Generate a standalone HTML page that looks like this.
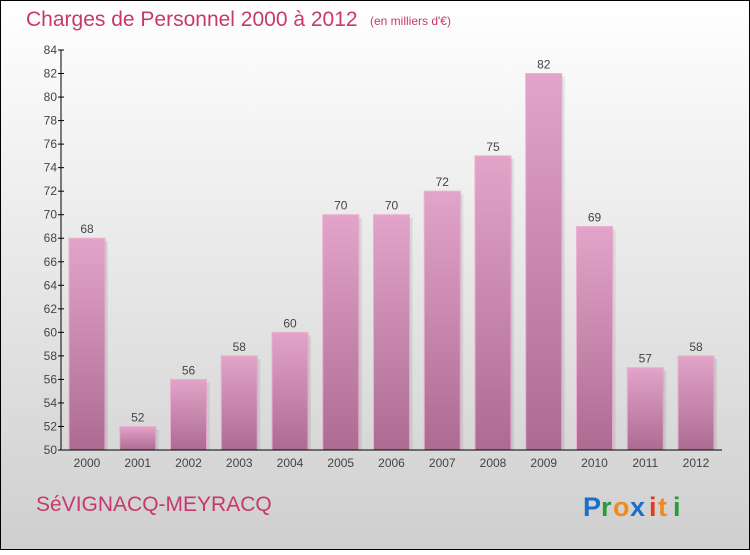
<!DOCTYPE html>
<html><head><meta charset="utf-8">
<style>
html,body{margin:0;padding:0}
body{width:750px;height:550px;overflow:hidden;font-family:"Liberation Sans",sans-serif}
</style></head>
<body>
<svg id="chart" width="750" height="550" xmlns="http://www.w3.org/2000/svg">
<defs>
<linearGradient id="bg" x1="0" y1="0" x2="0" y2="1">
<stop offset="0" stop-color="#ffffff"/><stop offset="1" stop-color="#cfcfcf"/>
</linearGradient>
<linearGradient id="bar" x1="0" y1="0" x2="0" y2="1">
<stop offset="0" stop-color="#e3a4c9"/><stop offset="1" stop-color="#ad6b92"/>
</linearGradient>
</defs>
<rect x="0.5" y="0.5" width="749" height="549" fill="url(#bg)" stroke="#000"/>
<text x="26" y="26" font-size="21" fill="#c8386e">Charges de Personnel 2000 à 2012</text>
<text x="370" y="25" font-size="12" fill="#c8386e">(en milliers d'€)</text>
<g id="plot"></g>
<text x="36" y="511" font-size="21" fill="#c8386e">SéVIGNACQ-MEYRACQ</text>
<g font-size="27" font-weight="bold" font-family="Liberation Sans, sans-serif">
<text x="583" y="516" fill="#1b6fc9">P</text><text x="601" y="516" fill="#2a9a3a">r</text><text x="613" y="516" fill="#f08a1c">o</text><text x="630" y="516" fill="#1b6fc9">x</text><text x="649" y="516" fill="#e23b1d">i</text><text x="658" y="516" fill="#f08a1c">t</text><text x="673" y="516" fill="#2a9a3a">i</text>
</g>
</svg>
<script>
const years = ["2000","2001","2002","2003","2004","2005","2006","2007","2008","2009","2010","2011","2012"];
const values = [68,52,56,58,60,70,70,72,75,82,69,57,58];
const yTicks = [50,52,54,56,58,60,62,64,66,68,70,72,74,76,78,80,82,84];
const NS="http://www.w3.org/2000/svg";
const g=document.getElementById('plot');
const yMin=50,yMax=84,y0=450,y1=50,axX=61;
const y=v=>y0-(v-yMin)/(yMax-yMin)*(y0-y1);
const x=i=>86+i*50.75;
function mk(t,a){const e=document.createElementNS(NS,t);for(const k in a)e.setAttribute(k,a[k]);g.appendChild(e);return e;}
values.forEach((v,i)=>{
 const r=mk('rect',{x:x(i)-17,y:y(v),width:36,height:y0-y(v),fill:'url(#bar)',stroke:'#e9b0d0','stroke-width':1});
 
 
 const s=mk('rect',{x:x(i)+19,y:y(v)+3,width:3,height:y0-y(v)-3,fill:'#000',opacity:0.08});
 
 
 const t=mk('text',{x:x(i)+1,y:y(v)-5,'font-size':12,'text-anchor':'middle',fill:'#444'});
 t.textContent=v;
 
 
 const xl=mk('text',{x:x(i)+1,y:467,'font-size':12,'text-anchor':'middle',fill:'#444'});
 xl.textContent=years[i];
 
 
});
yTicks.forEach(v=>{
 const l=mk('line',{x1:axX-3,x2:axX+3,y1:y(v),y2:y(v),stroke:'#000'});
 
 
 const t=mk('text',{x:axX-4,y:y(v)+4,'font-size':12,'text-anchor':'end',fill:'#444'});
 t.textContent=v;
 
 
});
const ya=mk('line',{x1:axX,x2:axX,y1:y1,y2:y0,stroke:'#000'});


const xa=mk('line',{x1:axX,x2:722,y1:y0,y2:y0,stroke:'#000'});


</script>
</body></html>
